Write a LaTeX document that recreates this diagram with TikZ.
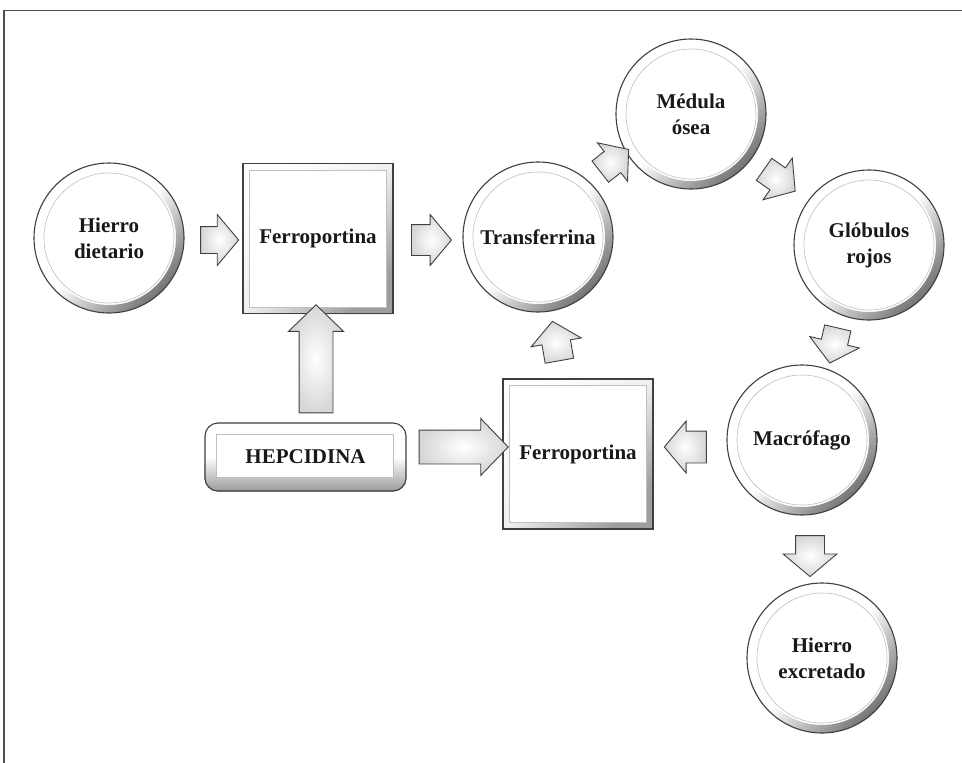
\documentclass[tikz,border=0pt]{standalone}
\usepackage{fontspec}
\setmainfont{Liberation Serif}
\usetikzlibrary{shapes.arrows,backgrounds,calc}
\begin{document}
\begin{tikzpicture}[x=1pt,y=-1pt,
  lbl/.style={font=\bfseries\fontsize{21}{26}\selectfont, text=black!90, align=center},
  circ/.style={lbl, circle, minimum size=150pt, inner sep=0pt, draw=black!75, line width=1.1pt},
  sqbox/.style={lbl, rectangle, minimum width=150pt, minimum height=150pt, inner sep=0pt, draw=black!75, line width=1.1pt},
  hepbox/.style={lbl, rectangle, rounded corners=13pt, minimum width=201pt, minimum height=68pt, inner sep=0pt, draw=black!75, line width=1.1pt},
  barrow/.style n args={4}{single arrow, draw=black!75, line width=0.9pt,
     inner color=white, outer color=black!16,
     inner xsep=0pt, inner ysep=#3pt, minimum height=#1pt, minimum width=0pt,
     single arrow head extend=#2pt, single arrow tip angle=#4},
  ring/.style={even odd rule, top color=white, bottom color=black!55, middle color=white, shading angle=45},
  frameshade/.style={even odd rule, top color=white, bottom color=black!38, middle color=black!6, shading angle=45},
  innerline/.style={black!25, line width=0.6pt}
]
\useasboundingbox (0,0) rectangle (962,763);
\draw[black!70, line width=1.3pt] (4,763) -- (4,10.5) -- (962,10.5);

% nodes
\node[circ] (hd) at (109,238) {Hierro\\dietario};
\node[sqbox] (f1) at (318,238.5) {Ferroportina};
\node[circ] (tr) at (538,237) {Transferrina};
\node[circ] (me) at (691,114) {Médula\\ósea};
\node[circ] (gl) at (869,245) {Glóbulos\\rojos};
\node[circ] (ma) at (802,440) {Macrófago};
\node[circ] (he) at (822,658) {Hierro\\excretado};
\node[sqbox] (f2) at (578,454) {Ferroportina};
\node[hepbox] (hp) at (305.5,457) {HEPCIDINA};

% block arrows: length, head extend, half shaft, tip angle
\node[barrow={38}{12}{13}{100}] (a1) at (214,240) {};
\node[barrow={40}{10}{15}{100}] (a2) at (425,240) {};
\node[barrow={108}{10.5}{16.5}{92}, rotate=90] (a3) at (316,367) {};
\node[barrow={89}{11.5}{16.5}{92}] (a4) at (455.5,447) {};
\node[barrow={40}{11}{14}{100}, rotate=100] (a5) at (557,347) {};
\node[barrow={36}{11}{13}{100}, rotate=38] (a6) at (610,164) {};
\node[barrow={38}{12}{13}{100}, rotate=-35] (a7) at (775,177) {};
\node[barrow={36}{12}{13}{100}, rotate=-103] (a8) at (835,340) {};
\node[barrow={42}{10}{15.5}{100}, rotate=180] (a9) at (692,447) {};
\node[barrow={41}{12.5}{14}{100}, rotate=-90] (a10) at (810,550) {};

% decorations
\begin{scope}[on background layer]
  \foreach \n in {hd,tr,me,gl,ma,he} {
    \shade[ring] (\n.center) circle[radius=75] (\n.center) circle[radius=67];
    \draw[innerline] (\n.center) circle[radius=65];
  }
  \foreach \n in {f1,f2} {
    \shade[frameshade] (\n.north west) rectangle (\n.south east)
       ($(\n.north west)+(7,7)$) rectangle ($(\n.south east)+(-7,-7)$);
    \draw[innerline] ($(\n.north west)+(7,7)$) rectangle ($(\n.south east)+(-7,-7)$);
  }
  \shade[top color=white, bottom color=black!40, middle color=white, rounded corners=13pt]
     (hp.north west) rectangle (hp.south east);
  \draw[innerline, fill=white] ($(hp.north west)+(12,12)$) rectangle ($(hp.south east)+(-13,-14)$);
\end{scope}
\end{tikzpicture}
\end{document}
